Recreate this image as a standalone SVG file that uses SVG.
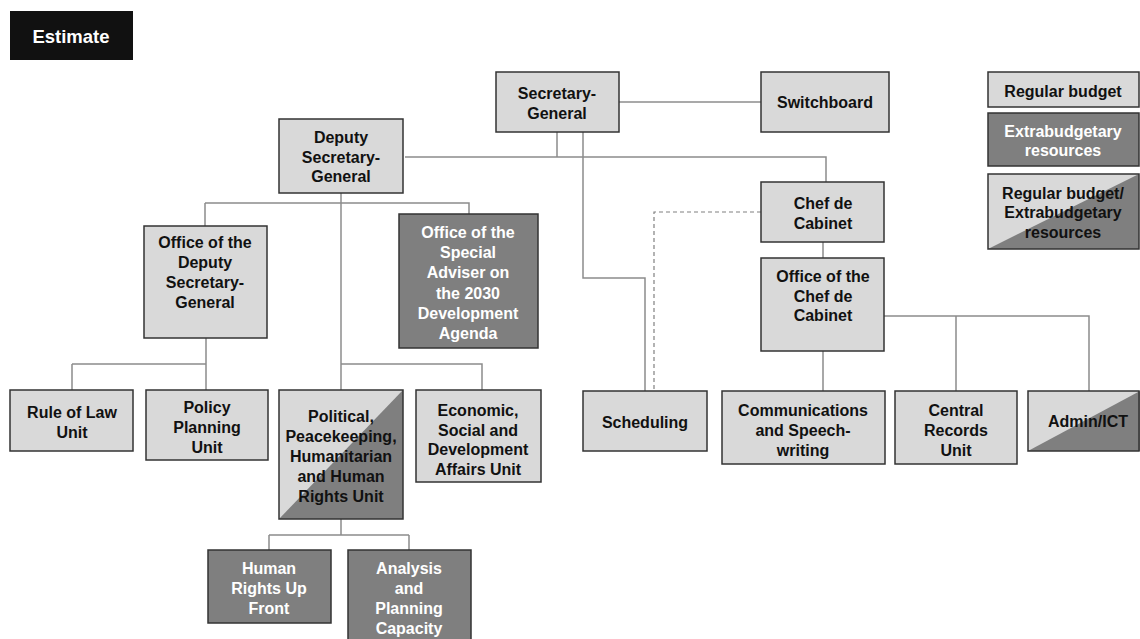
<svg xmlns="http://www.w3.org/2000/svg" width="1140" height="639" viewBox="0 0 1140 639">
<style>
text{font-family:"Liberation Sans",Arial,sans-serif;font-weight:bold;font-size:16px;text-anchor:middle;fill:#111}
.w{fill:#fff}
.lt{fill:#d9d9d9;stroke:#333;stroke-width:1.5}
.dk{fill:#7f7f7f;stroke:#333;stroke-width:1.5}
.bd{fill:none;stroke:#333;stroke-width:1.5}
.tri{fill:#7f7f7f}
.c{fill:none;stroke:#8c8c8c;stroke-width:1.5}
.d{fill:none;stroke:#808080;stroke-width:1.2;stroke-dasharray:4,3}
</style>
<rect width="1140" height="639" fill="#fff"/>
<g id="connectors">
<path class="c" d="M619,102H761"/>
<path class="c" d="M557,132V157M405,157H826V182"/>
<path class="c" d="M583,132V278H645V391"/>
<path class="d" d="M761,212H654V391"/>
<path class="c" d="M823,242V258M823,351V391"/>
<path class="c" d="M884,316H1089V391M956,316V391"/>
<path class="c" d="M341,193V390"/>
<path class="c" d="M205,203H469V214M205,203V226"/>
<path class="c" d="M206,338V390M72,364H206M72,364V390"/>
<path class="c" d="M341,364H482V390"/>
<path class="c" d="M341,519V535M269,535H409M269,535V550M409,535V550"/>
</g>
<g id="estimate">
<rect x="10" y="11" width="123" height="49" fill="#111"/>
<text x="71" y="43" class="w" style="font-size:18.5px">Estimate</text>
</g>
<g id="sg">
<rect class="lt" x="496" y="72" width="123" height="60"/>
<text x="557" y="99">Secretary-</text><text x="557" y="119">General</text>
</g>
<g id="switchboard">
<rect class="lt" x="761" y="72" width="128" height="60"/>
<text x="825" y="108">Switchboard</text>
</g>
<g id="dsg">
<rect class="lt" x="279" y="119" width="124" height="74"/>
<text x="341" y="143">Deputy</text><text x="341" y="163">Secretary-</text><text x="341" y="182">General</text>
</g>
<g id="chef">
<rect class="lt" x="761" y="182" width="123" height="60"/>
<text x="823" y="209">Chef de</text><text x="823" y="229">Cabinet</text>
</g>
<g id="office-chef">
<rect class="lt" x="761" y="258" width="123" height="93"/>
<text x="823" y="282">Office of the</text><text x="823" y="302">Chef de</text><text x="823" y="321">Cabinet</text>
</g>
<g id="office-dsg">
<rect class="lt" x="144" y="226" width="123" height="112"/>
<text x="205" y="248">Office of the</text><text x="205" y="268">Deputy</text><text x="205" y="288">Secretary-</text><text x="205" y="308">General</text>
</g>
<g id="special-adviser">
<rect class="dk" x="399" y="214" width="139" height="134"/>
<text class="w" x="468" y="238">Office of the</text><text class="w" x="468" y="258">Special</text><text class="w" x="468" y="278">Adviser on</text><text class="w" x="468" y="299">the 2030</text><text class="w" x="468" y="319">Development</text><text class="w" x="468" y="339">Agenda</text>
</g>
<g id="rule-of-law">
<rect class="lt" x="10" y="390" width="123" height="61"/>
<text x="72" y="418">Rule of Law</text><text x="72" y="438">Unit</text>
</g>
<g id="policy">
<rect class="lt" x="146" y="390" width="122" height="70"/>
<text x="207" y="413">Policy</text><text x="207" y="433">Planning</text><text x="207" y="453">Unit</text>
</g>
<g id="pphr">
<rect x="279" y="390" width="124" height="129" fill="#d9d9d9"/>
<polygon class="tri" points="279,519 403,519 403,390"/>
<rect class="bd" x="279" y="390" width="124" height="129"/>
<text x="341" y="422">Political,</text><text x="341" y="442">Peacekeeping,</text><text x="341" y="462">Humanitarian</text><text x="341" y="482">and Human</text><text x="341" y="502">Rights Unit</text>
</g>
<g id="economic">
<rect class="lt" x="416" y="390" width="125" height="92"/>
<text x="478" y="416">Economic,</text><text x="478" y="436">Social and</text><text x="478" y="455">Development</text><text x="478" y="475">Affairs Unit</text>
</g>
<g id="scheduling">
<rect class="lt" x="583" y="391" width="124" height="60"/>
<text x="645" y="428">Scheduling</text>
</g>
<g id="comms">
<rect class="lt" x="722" y="391" width="163" height="73"/>
<text x="803" y="416">Communications</text><text x="803" y="436">and Speech-</text><text x="803" y="456">writing</text>
</g>
<g id="records">
<rect class="lt" x="895" y="391" width="122" height="73"/>
<text x="956" y="416">Central</text><text x="956" y="436">Records</text><text x="956" y="456">Unit</text>
</g>
<g id="admin">
<rect x="1028" y="391" width="112" height="60" fill="#d9d9d9"/>
<polygon class="tri" points="1028,451 1140,451 1140,391"/>
<rect class="bd" x="1028" y="391" width="111" height="60"/>
<text x="1088" y="427">Admin/ICT</text>
</g>
<g id="hrupfront">
<rect class="dk" x="208" y="550" width="123" height="73"/>
<text class="w" x="269" y="574">Human</text><text class="w" x="269" y="594">Rights Up</text><text class="w" x="269" y="614">Front</text>
</g>
<g id="analysis">
<rect class="dk" x="348" y="550" width="123" height="100"/>
<text class="w" x="409" y="574">Analysis</text><text class="w" x="409" y="594">and</text><text class="w" x="409" y="614">Planning</text><text class="w" x="409" y="634">Capacity</text>
</g>
<g id="legend-regular">
<rect class="lt" x="988" y="72" width="151" height="35"/>
<text x="1063" y="97">Regular budget</text>
</g>
<g id="legend-extra">
<rect class="dk" x="988" y="113" width="151" height="53"/>
<text class="w" x="1063" y="137">Extrabudgetary</text><text class="w" x="1063" y="156">resources</text>
</g>
<g id="legend-mixed">
<rect x="988" y="174" width="151" height="75" fill="#d9d9d9"/>
<polygon class="tri" points="988,249 1139,249 1139,174"/>
<rect class="bd" x="988" y="174" width="151" height="75"/>
<text x="1063" y="199">Regular budget/</text><text x="1063" y="218">Extrabudgetary</text><text x="1063" y="238">resources</text>
</g>
</svg>
